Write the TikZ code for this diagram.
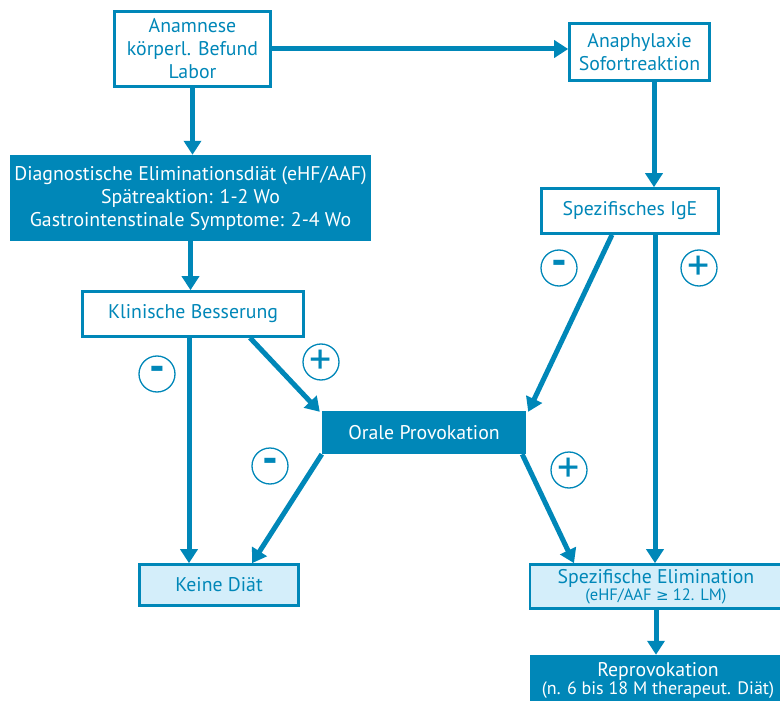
\documentclass[tikz,border=0pt]{standalone}
\usepackage{fontspec}
\setmainfont{PT Sans}
\newfontfamily\symfont{DejaVu Sans}
\usetikzlibrary{arrows.meta}
\definecolor{dblue}{HTML}{0087B8}
\definecolor{lblue}{HTML}{D4EEFA}

\begin{document}
\begin{tikzpicture}[x=1pt,y=-1pt,
    box/.style={draw=dblue, line width=2.6pt, fill=white, text=dblue, align=center,
      inner sep=0pt, font=\fontsize{19.8}{23}\selectfont},
    lbox/.style={box, fill=lblue},
    dbox/.style={fill=dblue, text=white, align=center, inner sep=0pt,
      font=\fontsize{19.8}{23}\selectfont},
    flow/.style={draw=dblue, line width=5pt, -{Triangle[length=14pt,width=17pt]}},
    sign/.style={circle, draw=dblue, line width=1.3pt, text=dblue, minimum size=36pt,
      inner sep=0pt, font=\fontsize{44}{44}\selectfont}]

    \useasboundingbox (0,0) rectangle (780,701);

      \node [box, minimum width=156pt, minimum height=75pt] (anam) at (192.5,49)
        {Anamnese\\ körperl. Befund\\ Labor};
      \node [box, minimum width=140pt, minimum height=57pt] (anaph) at (639.5,52)
        {Anaphylaxie\\ Sofortreaktion};
      \node [dbox, minimum width=361pt, minimum height=86pt] (diag) at (190.5,198)
        {Diagnostische Eliminationsdiät (eHF/AAF)\\ Spätreaktion: 1-2 Wo\\ Gastrointenstinale Symptome: 2-4 Wo};
      \node [box, minimum width=177pt, minimum height=45pt] (ige) at (630,211)
        {Spezifisches IgE};
      \node [box, minimum width=221pt, minimum height=45pt] (klin) at (193,314)
        {Klinische Besserung};
      \node [dbox, minimum width=204pt, minimum height=43pt] (orale) at (424,432.5)
        {Orale Provokation};
      \node [lbox, minimum width=159pt, minimum height=41pt] (keine) at (219,585)
        {Keine Diät};
      \node [lbox, minimum width=252pt, minimum height=44pt] (spez) at (656,586.5)
        {Spezifische Elimination\\[-6pt] {\fontsize{16.5}{18}\selectfont (eHF/AAF {\symfont\fontsize{15}{18}\selectfont ≥} 12. LM)}};
      \node [dbox, minimum width=256pt, minimum height=50pt] (repro) at (658,680)
        {Reprovokation\\[-5pt] {\fontsize{18}{19}\selectfont (n. 6 bis 18 M therapeut. Diät)}};

      \node [sign] (s1) at (157,374) {\textbf{-}};
      \node [sign] (s2) at (321,362) {+};
      \node [sign] (s3) at (559,268) {\textbf{-}};
      \node [sign] (s4) at (699,268) {+};
      \node [sign] (s5) at (270,466) {\textbf{-}};
      \node [sign] (s6) at (569,470) {+};

      \path [flow] (anam.east |- 0,49) -- (anaph.west |- 0,49);
      \path [flow] (anam.south) -- (anam.south |- diag.north);
      \path [flow] ([xshift=14.5pt]anaph.south) -- ([xshift=14.5pt]anaph.south |- ige.north);
      \path [flow] (diag.south) -- (diag.south |- klin.north);
      \path [flow] ([xshift=-4pt]klin.south) -- ([xshift=-4pt]klin.south |- keine.north);
      \path [flow] ([xshift=57pt]klin.south) -- ([xshift=-2pt,yshift=-1pt]orale.north west);
      \path [flow] ([xshift=-18pt]ige.south) -- ([xshift=2pt,yshift=-1pt]orale.north east);
      \path [flow] ([xshift=25pt]ige.south) -- ([xshift=25pt]ige.south |- spez.north);
      \path [flow] (orale.south west) -- ([xshift=33pt]keine.north);
      \path [flow] ([xshift=-4pt]orale.south east) -- ([xshift=-82pt]spez.north);
      \path [flow] (spez.south) -- (spez.south |- repro.north);

\end{tikzpicture}
\end{document}
